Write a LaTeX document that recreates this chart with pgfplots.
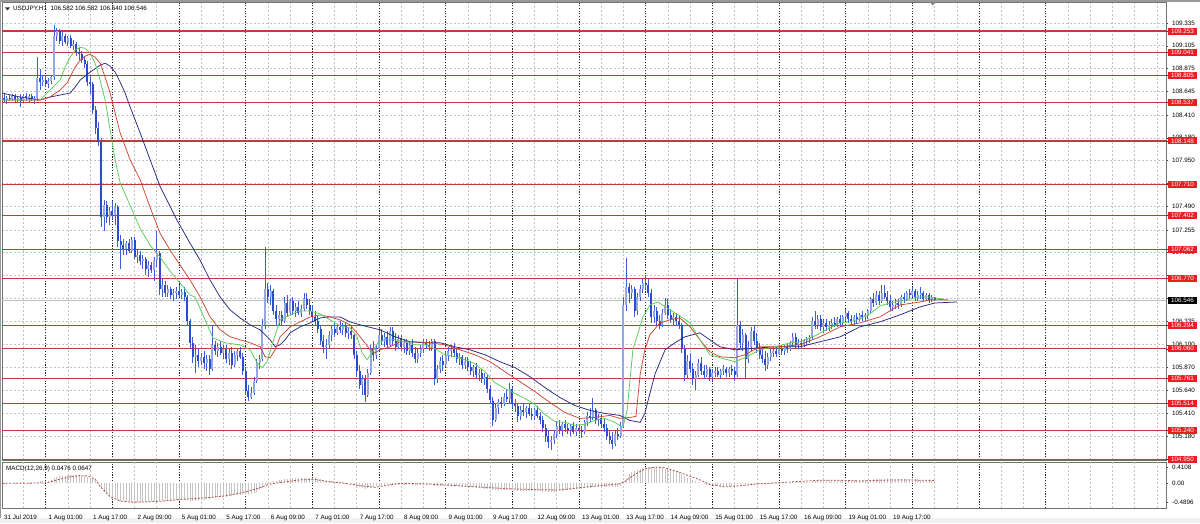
\documentclass[border=0pt]{standalone}
\usepackage{fontspec}
\setmainfont{Liberation Sans}
\usepackage{pgfplots}
\usepackage{pgfplotstable}
\pgfplotsset{compat=1.18}

\definecolor{gridgray}{RGB}{196,196,196}
\definecolor{lvl}{RGB}{196,58,58}
\definecolor{tagred}{RGB}{232,30,34}
\definecolor{bear}{RGB}{45,75,205}
\definecolor{bull}{RGB}{148,166,228}
\definecolor{wick}{RGB}{62,92,212}
\definecolor{lips}{RGB}{90,205,90}
\definecolor{teeth}{RGB}{205,70,50}
\definecolor{jaw}{RGB}{40,40,130}
\definecolor{histgray}{RGB}{196,196,196}
\definecolor{sigred}{RGB}{178,82,82}

% USDJPY H1 candles: bar index, open, high, low, close
\pgfplotstableread{
i o h l c
0 108.58 108.62 108.54 108.56
1 108.56 108.60 108.52 108.58
2 108.58 108.61 108.55 108.57
3 108.57 108.62 108.55 108.60
4 108.60 108.62 108.54 108.56
5 108.56 108.60 108.53 108.58
6 108.58 108.62 108.49 108.55
7 108.55 108.62 108.53 108.60
8 108.60 108.63 108.55 108.58
9 108.58 108.62 108.54 108.60
10 108.60 108.62 108.55 108.57
11 108.57 108.60 108.52 108.58
12 108.58 108.99 108.55 108.78
13 108.78 108.87 108.66 108.74
14 108.74 108.80 108.70 108.76
15 108.76 108.80 108.69 108.72
16 108.72 108.78 108.68 108.75
17 108.75 108.80 108.72 108.79
18 108.79 109.31 108.76 109.20
19 109.20 109.28 109.15 109.25
20 109.25 109.27 109.12 109.15
21 109.15 109.24 109.10 109.20
22 109.20 109.22 109.12 109.14
23 109.14 109.20 109.10 109.18
24 109.18 109.21 109.08 109.10
25 109.10 109.16 109.06 109.12
26 109.12 109.14 109.00 109.04
27 109.04 109.08 108.96 109.02
28 109.02 109.05 108.93 108.96
29 108.96 109.00 108.88 108.92
30 108.92 108.95 108.70 108.74
31 108.74 108.80 108.62 108.72
32 108.72 108.74 108.42 108.46
33 108.46 108.50 108.22 108.28
34 108.28 108.34 108.10 108.14
35 108.14 108.18 107.28 107.38
36 107.38 107.56 107.24 107.50
37 107.50 107.54 107.32 107.38
38 107.38 107.48 107.30 107.44
39 107.44 107.55 107.36 107.40
40 107.40 107.52 107.30 107.48
41 107.48 107.50 107.08 107.14
42 107.14 107.20 106.86 107.10
43 107.10 107.16 107.00 107.06
44 107.06 107.14 107.00 107.12
45 107.12 107.16 107.02 107.04
46 107.04 107.18 107.02 107.15
47 107.15 107.18 106.96 106.98
48 106.98 107.06 106.92 107.00
49 107.00 107.04 106.90 106.94
50 106.94 107.00 106.86 106.96
51 106.96 106.98 106.80 106.86
52 106.86 106.94 106.78 106.90
53 106.90 106.93 106.82 106.85
54 106.85 106.98 106.74 106.95
55 106.95 107.24 106.88 107.02
56 107.02 107.04 106.60 106.66
57 106.66 106.76 106.58 106.70
58 106.70 106.74 106.58 106.62
59 106.62 106.70 106.58 106.66
60 106.66 106.68 106.56 106.60
61 106.60 106.66 106.54 106.62
62 106.62 106.68 106.56 106.64
63 106.64 106.70 106.58 106.60
64 106.60 106.66 106.56 106.63
65 106.63 106.68 106.54 106.58
66 106.58 106.60 106.30 106.34
67 106.34 106.36 106.06 106.12
68 106.12 106.18 105.92 105.98
69 105.98 106.10 105.82 106.00
70 106.00 106.06 105.88 105.94
71 105.94 106.02 105.90 105.98
72 105.98 106.04 105.86 105.92
73 105.92 106.00 105.84 105.96
74 105.96 106.00 105.80 105.86
75 105.86 106.30 105.84 106.10
76 106.10 106.14 106.00 106.04
77 106.04 106.12 105.98 106.08
78 106.08 106.14 106.00 106.02
79 106.02 106.10 105.96 106.06
80 106.06 106.10 105.92 105.96
81 105.96 106.06 105.90 106.02
82 106.02 106.08 105.86 105.90
83 105.90 106.04 105.88 106.00
84 106.00 106.06 105.94 106.04
85 106.04 106.08 105.96 105.98
86 105.98 106.02 105.80 105.84
87 105.84 105.88 105.60 105.64
88 105.64 105.70 105.54 105.58
89 105.58 105.68 105.56 105.62
90 105.62 105.78 105.60 105.74
91 105.74 105.96 105.72 105.92
92 105.92 106.00 105.86 105.96
93 105.96 106.36 105.94 106.30
94 106.30 107.08 106.26 106.66
95 106.66 106.72 106.52 106.58
96 106.58 106.70 106.50 106.64
97 106.64 106.66 106.40 106.44
98 106.44 106.50 106.30 106.36
99 106.36 106.44 106.30 106.40
100 106.40 106.44 106.30 106.34
101 106.34 106.58 106.32 106.52
102 106.52 106.60 106.38 106.42
103 106.42 106.56 106.40 106.54
104 106.54 106.58 106.40 106.44
105 106.44 106.52 106.38 106.48
106 106.48 106.54 106.40 106.42
107 106.42 106.50 106.38 106.46
108 106.46 106.62 106.44 106.56
109 106.56 106.62 106.46 106.50
110 106.50 106.56 106.40 106.44
111 106.44 106.50 106.34 106.38
112 106.38 106.44 106.30 106.34
113 106.34 106.40 106.22 106.26
114 106.26 106.30 106.10 106.14
115 106.14 106.20 106.02 106.08
116 106.08 106.16 105.96 106.10
117 106.10 106.24 106.06 106.20
118 106.20 106.30 106.14 106.26
119 106.26 106.32 106.18 106.22
120 106.22 106.30 106.20 106.28
121 106.28 106.34 106.22 106.25
122 106.25 106.32 106.20 106.29
123 106.29 106.32 106.18 106.22
124 106.22 106.28 106.16 106.24
125 106.24 106.28 106.16 106.20
126 106.20 106.22 105.96 106.00
127 106.00 106.04 105.78 105.84
128 105.84 105.90 105.66 105.70
129 105.70 105.80 105.60 105.76
130 105.76 105.80 105.52 105.60
131 105.60 105.86 105.58 105.82
132 105.82 106.10 105.80 106.06
133 106.06 106.14 105.94 106.00
134 106.00 106.10 105.96 106.06
135 106.06 106.27 106.04 106.20
136 106.20 106.26 106.10 106.14
137 106.14 106.22 106.08 106.18
138 106.18 106.24 106.06 106.10
139 106.10 106.28 106.08 106.24
140 106.24 106.28 106.10 106.14
141 106.14 106.22 106.04 106.08
142 106.08 106.20 106.06 106.16
143 106.16 106.20 106.04 106.08
144 106.08 106.16 106.02 106.12
145 106.12 106.16 106.00 106.04
146 106.04 106.14 106.00 106.10
147 106.10 106.16 105.98 106.02
148 106.02 106.08 105.92 105.96
149 105.96 106.06 105.92 106.02
150 106.02 106.10 105.98 106.06
151 106.06 106.16 106.02 106.12
152 106.12 106.16 106.06 106.10
153 106.10 106.14 106.04 106.08
154 106.08 106.16 106.04 106.14
155 106.14 106.16 105.70 105.76
156 105.76 105.90 105.72 105.86
157 105.86 105.98 105.82 105.94
158 105.94 106.00 105.84 105.90
159 105.90 106.04 105.88 106.00
160 106.00 106.08 105.94 106.04
161 106.04 106.10 105.98 106.06
162 106.06 106.12 105.98 106.02
163 106.02 106.06 105.92 105.96
164 105.96 106.02 105.90 105.98
165 105.98 106.00 105.86 105.90
166 105.90 105.98 105.86 105.94
167 105.94 105.98 105.84 105.88
168 105.88 105.94 105.80 105.84
169 105.84 105.90 105.78 105.88
170 105.88 105.92 105.76 105.80
171 105.80 105.86 105.74 105.82
172 105.82 105.86 105.72 105.76
173 105.76 105.82 105.70 105.78
174 105.78 105.80 105.62 105.66
175 105.66 105.70 105.50 105.54
176 105.54 105.58 105.28 105.34
177 105.34 105.50 105.32 105.46
178 105.46 105.56 105.40 105.52
179 105.52 105.58 105.46 105.50
180 105.50 105.62 105.48 105.58
181 105.58 105.66 105.52 105.56
182 105.56 105.72 105.50 105.66
183 105.66 105.68 105.46 105.50
184 105.50 105.56 105.42 105.48
185 105.48 105.50 105.32 105.38
186 105.38 105.48 105.34 105.44
187 105.44 105.50 105.38 105.42
188 105.42 105.48 105.36 105.46
189 105.46 105.50 105.38 105.40
190 105.40 105.46 105.34 105.38
191 105.38 105.46 105.34 105.44
192 105.44 105.48 105.36 105.38
193 105.38 105.42 105.30 105.34
194 105.34 105.38 105.22 105.26
195 105.26 105.30 105.12 105.18
196 105.18 105.24 105.06 105.12
197 105.12 105.18 105.04 105.14
198 105.14 105.24 105.10 105.20
199 105.20 105.32 105.16 105.28
200 105.28 105.34 105.20 105.24
201 105.24 105.32 105.18 105.30
202 105.30 105.34 105.22 105.26
203 105.26 105.30 105.20 105.24
204 105.24 105.30 105.18 105.28
205 105.28 105.32 105.20 105.22
206 105.22 105.30 105.18 105.26
207 105.26 105.30 105.20 105.24
208 105.24 105.28 105.16 105.22
209 105.22 105.34 105.20 105.32
210 105.32 105.42 105.28 105.38
211 105.38 105.46 105.32 105.36
212 105.36 105.57 105.34 105.44
213 105.44 105.46 105.30 105.34
214 105.34 105.40 105.28 105.36
215 105.36 105.40 105.26 105.30
216 105.30 105.36 105.22 105.26
217 105.26 105.30 105.14 105.18
218 105.18 105.24 105.10 105.14
219 105.14 105.22 105.05 105.10
220 105.10 105.24 105.08 105.20
221 105.20 105.26 105.14 105.18
222 105.18 105.32 105.16 105.28
223 105.28 106.58 105.26 106.50
224 106.50 106.97 106.44 106.68
225 106.68 106.72 106.52 106.62
226 106.62 106.70 106.56 106.66
227 106.66 106.68 106.38 106.44
228 106.44 106.62 106.40 106.58
229 106.58 106.70 106.54 106.66
230 106.66 106.76 106.62 106.72
231 106.72 106.80 106.66 106.70
232 106.70 106.76 106.58 106.62
233 106.62 106.66 106.32 106.38
234 106.38 106.50 106.32 106.44
235 106.44 106.48 106.30 106.34
236 106.34 106.40 106.26 106.30
237 106.30 106.46 106.28 106.42
238 106.42 106.57 106.40 106.50
239 106.50 106.56 106.36 106.40
240 106.40 106.46 106.32 106.36
241 106.36 106.42 106.30 106.38
242 106.38 106.42 106.30 106.34
243 106.34 106.40 106.26 106.30
244 106.30 106.32 106.02 106.06
245 106.06 106.10 105.74 105.80
246 105.80 106.00 105.76 105.94
247 105.94 106.02 105.82 105.86
248 105.86 105.92 105.70 105.76
249 105.76 105.84 105.65 105.80
250 105.80 105.96 105.78 105.92
251 105.92 105.98 105.80 105.84
252 105.84 105.90 105.76 105.80
253 105.80 105.90 105.78 105.86
254 105.86 105.88 105.74 105.78
255 105.78 105.86 105.74 105.82
256 105.82 105.88 105.78 105.84
257 105.84 105.88 105.78 105.80
258 105.80 105.86 105.76 105.84
259 105.84 105.90 105.80 105.86
260 105.86 105.88 105.78 105.82
261 105.82 105.88 105.78 105.86
262 105.86 105.90 105.80 105.84
263 105.84 105.88 105.74 105.80
264 105.80 106.77 105.78 106.30
265 106.30 106.34 106.06 106.12
266 106.12 106.26 106.04 106.20
267 106.20 106.22 105.76 105.96
268 105.96 106.14 105.92 106.08
269 106.08 106.28 106.04 106.24
270 106.24 106.30 106.10 106.14
271 106.14 106.22 106.02 106.06
272 106.06 106.12 105.96 106.00
273 106.00 106.08 105.92 105.96
274 105.96 106.04 105.84 105.90
275 105.90 106.02 105.86 105.98
276 105.98 106.06 105.94 106.02
277 106.02 106.08 105.98 106.04
278 106.04 106.08 105.98 106.01
279 106.01 106.10 106.00 106.06
280 106.06 106.10 106.00 106.04
281 106.04 106.10 106.00 106.08
282 106.08 106.12 106.02 106.06
283 106.06 106.14 106.04 106.12
284 106.12 106.22 106.08 106.18
285 106.18 106.22 106.06 106.10
286 106.10 106.16 106.06 106.12
287 106.12 106.16 106.06 106.10
288 106.10 106.16 106.08 106.14
289 106.14 106.18 106.10 106.16
290 106.16 106.20 106.12 106.18
291 106.18 106.38 106.16 106.34
292 106.34 106.44 106.26 106.30
293 106.30 106.40 106.26 106.36
294 106.36 106.40 106.24 106.28
295 106.28 106.36 106.22 106.32
296 106.32 106.36 106.24 106.28
297 106.28 106.34 106.24 106.30
298 106.30 106.36 106.26 106.32
299 106.32 106.38 106.28 106.30
300 106.30 106.38 106.28 106.36
301 106.36 106.40 106.28 106.32
302 106.32 106.40 106.30 106.38
303 106.38 106.46 106.34 106.42
304 106.42 106.44 106.32 106.36
305 106.36 106.40 106.30 106.34
306 106.34 106.40 106.30 106.38
307 106.38 106.42 106.32 106.36
308 106.36 106.42 106.34 106.40
309 106.40 106.44 106.34 106.38
310 106.38 106.42 106.34 106.40
311 106.40 106.46 106.36 106.44
312 106.44 106.58 106.42 106.56
313 106.56 106.62 106.48 106.52
314 106.52 106.64 106.50 106.60
315 106.60 106.64 106.50 106.54
316 106.54 106.70 106.52 106.62
317 106.62 106.70 106.56 106.58
318 106.58 106.64 106.50 106.54
319 106.54 106.60 106.44 106.48
320 106.48 106.54 106.44 106.50
321 106.50 106.56 106.46 106.52
322 106.52 106.56 106.46 106.50
323 106.50 106.60 106.48 106.58
324 106.58 106.62 106.52 106.56
325 106.56 106.64 106.54 106.62
326 106.62 106.66 106.56 106.60
327 106.60 106.68 106.58 106.64
328 106.64 106.66 106.54 106.58
329 106.58 106.64 106.54 106.60
330 106.60 106.68 106.56 106.62
331 106.62 106.64 106.54 106.56
332 106.56 106.62 106.54 106.60
333 106.60 106.62 106.52 106.55
334 106.55 106.60 106.53 106.58
335 106.582 106.582 106.540 106.546
}\ohlc

% Alligator lines (bar index, price)
\pgfplotstableread{
i p
-0.7 108.63
5.8 108.59
13 108.56
16.6 108.59
20.2 108.61
23.8 108.63
25.6 108.69
27.4 108.76
31 108.84
34.6 108.91
36.4 108.93
38.2 108.90
40 108.84
41.8 108.74
43.6 108.63
45.4 108.49
49 108.23
52.6 107.96
56.2 107.69
62.3 107.35
67 107.12
70.6 106.95
74.2 106.75
77.8 106.58
81.4 106.45
85 106.37
88.6 106.30
92.2 106.25
95.8 106.15
97.6 106.08
99.4 106.10
101.2 106.15
103 106.22
106.6 106.28
110.2 106.32
113.8 106.37
117.4 106.38
121 106.38
124.6 106.33
128.2 106.30
135.4 106.25
140.8 106.18
146.2 106.13
151.6 106.12
157 106.12
162.3 106.08
167.7 106.05
173.1 106.00
178.5 105.93
184 105.87
189.3 105.78
194.7 105.67
200.1 105.57
205.5 105.49
211 105.44
216.3 105.41
221.7 105.39
225.3 105.34
229 105.32
230.7 105.41
232.5 105.61
234.4 105.81
238 106.05
241.5 106.12
245.1 106.18
250.5 106.22
254.1 106.15
257.7 106.08
263.1 106.05
272.1 106.07
279.3 106.08
286.5 106.08
293.7 106.13
301 106.18
308.1 106.28
315.3 106.33
322.5 106.40
329.7 106.48
335.1 106.52
343 106.53
}\jaw

\pgfplotstableread{
i p
-0.7 108.56
13 108.56
16.6 108.59
20.2 108.66
22.7 108.73
25.6 108.89
27.4 108.96
29.2 109.00
31 109.02
32.8 108.99
34.6 108.93
36.4 108.79
38.2 108.63
40 108.43
41.8 108.23
45.4 107.96
49 107.76
52.6 107.48
56.2 107.22
59.8 107.05
63.4 106.90
67 106.75
70.6 106.58
74.2 106.38
77.8 106.25
81.4 106.18
85 106.15
88.6 106.12
92.2 106.08
94 105.98
95.8 105.97
97.6 106.05
99.4 106.18
103 106.28
106.6 106.33
110.2 106.38
113.8 106.40
117.4 106.38
121 106.35
124.6 106.30
128.2 106.18
131.8 106.05
133.6 106.02
135.4 106.05
139 106.08
142.6 106.13
148 106.13
153.3 106.12
158.7 106.10
164.1 106.05
169.5 106.00
175 105.93
180.3 105.83
185.7 105.73
191.1 105.63
196.5 105.52
201.9 105.42
207.3 105.36
212.7 105.37
218.1 105.39
221.7 105.36
225.3 105.37
227.5 105.38
229 105.80
230.7 106.05
232.5 106.20
236.1 106.32
239.7 106.35
243.3 106.37
247 106.28
250.5 106.15
254.1 106.03
257.7 105.98
263.1 105.97
266.7 106.00
272.1 106.08
279.3 106.08
286.5 106.10
293.7 106.18
301 106.28
308.1 106.32
315.3 106.38
322.5 106.50
329.7 106.53
335.1 106.56
340 106.55
}\teeth

\pgfplotstableread{
i p
-0.7 108.56
13 108.56
14.8 108.61
16.6 108.66
18.4 108.71
20.2 108.76
22 108.89
23.8 108.99
25.6 109.06
27.4 109.09
29.2 109.08
31 109.03
32.8 108.93
34.6 108.76
36.4 108.56
38.2 108.26
40 107.96
41.8 107.73
45.4 107.50
49 107.27
52.6 107.10
56.2 106.98
59.8 106.84
63.4 106.72
67 106.60
68.8 106.58
71.6 106.40
75.2 106.17
79.6 106.12
85 106.10
88.6 106.05
91.1 105.92
92.9 105.87
94.7 105.93
96.5 106.10
99.4 106.35
103 106.40
106.6 106.44
110.2 106.44
113.8 106.41
117.4 106.35
121 106.29
124.6 106.27
127.1 106.18
128.9 106.02
130.7 105.95
132.5 106.02
134.6 106.12
137.1 106.15
140.8 106.15
144.3 106.13
148 106.10
151.6 106.10
155.9 106.05
158.7 106.00
162.3 105.98
166 105.95
169.5 105.91
173.1 105.83
176.7 105.72
180.3 105.66
184 105.61
187.5 105.56
191.1 105.50
194.7 105.40
198.3 105.33
201.9 105.32
205.5 105.29
209.1 105.30
212.7 105.34
216.3 105.36
219.9 105.32
222.8 105.27
224.3 105.44
226.4 106.05
230 106.38
232.5 106.50
235.4 106.53
239.7 106.45
243.3 106.39
247 106.32
250.5 106.15
254.1 106.00
257.7 105.97
263.1 105.93
266.7 105.97
272.1 106.05
277.5 106.08
283 106.12
286.5 106.13
292 106.19
297.3 106.27
301 106.32
304.5 106.33
308.1 106.36
311.7 106.41
315.3 106.49
318.9 106.52
322.5 106.54
326.1 106.56
329.7 106.58
333.3 106.58
338 106.56
}\lips

\pgfplotsset{
  mtpane/.style={
    scale only axis, width=1164pt,
    xmin=-0.72, xmax=418.3,
    clip mode=individual,
    axis line style={draw=black!55, line width=0.8pt},
    major grid style={draw=gridgray, line width=0.6pt, dash pattern=on 2pt off 2pt},
    minor grid style={draw=black!85, line width=0.7pt, dash pattern=on 1.2pt off 1.5pt},
    minor xtick={15,39,...,375}, xminorgrids=true,
    xtick style={draw=none}, minor tick length=0pt,
    tick align=outside, major tick length=2.5pt,
    ytick pos=right, yticklabel pos=right,
    ytick style={draw=black!75, line width=0.5pt},
    tick label style={font=\fontsize{6.3}{7.5}\selectfont, text=black},
    yticklabel style={anchor=west, inner sep=0pt, xshift=3.5pt},
  },
}
\tikzset{
  pricetag/.style={anchor=west, text=white, minimum width=29pt, minimum height=7pt,
    inner sep=0pt, font=\fontsize{6.3}{7.5}\selectfont},
}

\begin{document}
\begin{tikzpicture}[font=\fontsize{6.3}{7.5}\selectfont]
\useasboundingbox (0,0) rectangle (1200pt,523pt);
\fill[white] (0,0) rectangle (1200pt,523pt);
\fill[black!6] (0,0) rectangle (1200pt,5pt);

% price pane
\begin{axis}[mtpane,
  at={(2pt,63pt)}, anchor=south west, height=458pt,
  ymin=104.942, ymax=109.545,
  xtick={7,23,31,47,55,71,79,95,103,119,127,143,151,167,175,191,199,215,223,239,247,263,271,287,295,311,319,335,343,359,367,383,391,399,407,415},
  xticklabels={}, xmajorgrids=true,
  ytick={109.335,109.105,108.875,108.645,108.410,108.180,107.950,107.720,107.490,107.255,107.025,106.795,106.565,106.335,106.100,105.870,105.640,105.410,105.180},
  yticklabels={109.335,109.105,108.875,108.645,108.410,108.180,107.950,,107.490,107.255,107.025,,,106.335,106.100,105.870,105.640,105.410,105.180},
  ymajorgrids=true,
  extra y ticks={109.253,109.041,108.805,108.537,108.148,107.710,107.402,107.062,106.770,106.294,106.060,105.761,105.514,105.240,104.950},
  extra y tick labels={},
  extra y tick style={grid=major,
    major grid style={draw=lvl, line width=1.1pt, solid}},
]
\addplot[draw=black!25, line width=0.6pt] coordinates {(-0.72,106.546) (418.3,106.546)};
\addplot[draw=wick, line width=0.9pt, mark=none, quiver={u=0, v=\thisrow{h}-\thisrow{l}}]
  table[x=i, y=l] {\ohlc};
\addplot[draw=bull, line width=2pt, mark=none, quiver={u=0, v=\thisrow{c}-\thisrow{o}},
  restrict expr to domain={\thisrow{c}-\thisrow{o}}{0:10}]
  table[x=i, y=o] {\ohlc};
\addplot[draw=bear, line width=2pt, mark=none, quiver={u=0, v=\thisrow{c}-\thisrow{o}},
  restrict expr to domain={\thisrow{o}-\thisrow{c}}{0.0001:10}]
  table[x=i, y=o] {\ohlc};
\addplot[draw=jaw, line width=0.75pt, mark=none] table[x=i, y=p] {\jaw};
\addplot[draw=teeth, line width=0.75pt, mark=none] table[x=i, y=p] {\teeth};
\addplot[draw=lips, line width=0.75pt, mark=none] table[x=i, y=p] {\lips};
% anchors for the price tags on the right scale
\coordinate (L1) at (axis cs:418.3,109.253);
\coordinate (L2) at (axis cs:418.3,109.041);
\coordinate (L3) at (axis cs:418.3,108.805);
\coordinate (L4) at (axis cs:418.3,108.537);
\coordinate (L5) at (axis cs:418.3,108.148);
\coordinate (L6) at (axis cs:418.3,107.710);
\coordinate (L7) at (axis cs:418.3,107.402);
\coordinate (L8) at (axis cs:418.3,107.062);
\coordinate (L9) at (axis cs:418.3,106.770);
\coordinate (L10) at (axis cs:418.3,106.294);
\coordinate (L11) at (axis cs:418.3,106.060);
\coordinate (L12) at (axis cs:418.3,105.761);
\coordinate (L13) at (axis cs:418.3,105.514);
\coordinate (L14) at (axis cs:418.3,105.240);
\coordinate (L15) at (axis cs:418.3,104.950);
\coordinate (Bid) at (axis cs:418.3,106.546);
\end{axis}

% MACD pane
\begin{axis}[mtpane,
  at={(2pt,15pt)}, anchor=south west, height=46pt,
  ymin=-0.641, ymax=0.538,
  xtick={0,16,...,320},
  xticklabels={31 Jul 2019,1 Aug 01:00,1 Aug 17:00,2 Aug 09:00,5 Aug 01:00,5 Aug 17:00,6 Aug 09:00,7 Aug 01:00,7 Aug 17:00,8 Aug 09:00,9 Aug 01:00,9 Aug 17:00,12 Aug 09:00,13 Aug 01:00,13 Aug 17:00,14 Aug 09:00,15 Aug 01:00,15 Aug 17:00,16 Aug 09:00,19 Aug 01:00,19 Aug 17:00},
  xmajorgrids=false,
  xticklabel style={anchor=base west, inner sep=0pt, yshift=-9.3pt},
  extra x ticks={7,23,31,47,55,71,79,95,103,119,127,143,151,167,175,191,199,215,223,239,247,263,271,287,295,311,319,335,343,359,367,383,391,399,407,415},
  extra x tick labels={}, extra x tick style={grid=major},
  ytick={-0.4896,0,0.4108}, yticklabels={-0.4896,0.00,0.4108},
  ymajorgrids=false,
]
\addplot[ycomb, draw=histgray, line width=0.9pt, mark=none] coordinates {
(0,0.01)(1,0.01)(2,0.00)(3,0.00)(4,0.01)(5,0.00)(6,-0.01)(7,0.00)(8,0.00)(9,0.01)(10,0.00)(11,0.00)(12,0.03)(13,0.04)(14,0.05)
(15,0.06)(16,0.06)(17,0.07)(18,0.12)(19,0.15)(20,0.17)(21,0.18)(22,0.19)(23,0.20)(24,0.20)(25,0.20)(26,0.20)(27,0.19)(28,0.19)(29,0.18)(30,0.16)
(31,0.14)(32,0.10)(33,0.05)(34,-0.01)(35,-0.12)(36,-0.20)(37,-0.26)(38,-0.31)(39,-0.35)(40,-0.39)(41,-0.43)
(42,-0.46)(43,-0.47)(44,-0.48)(45,-0.49)(46,-0.49)(47,-0.49)(48,-0.49)(49,-0.49)(50,-0.48)(51,-0.48)(52,-0.48)(53,-0.47)(54,-0.47)(55,-0.46)
(56,-0.47)(57,-0.47)(58,-0.46)(59,-0.46)(60,-0.45)(61,-0.45)(62,-0.44)(63,-0.44)(64,-0.43)(65,-0.43)(66,-0.44)(67,-0.45)(68,-0.46)(69,-0.46)(70,-0.45)
(71,-0.44)(72,-0.43)(73,-0.42)(74,-0.41)(75,-0.39)(76,-0.38)(77,-0.37)(78,-0.36)(79,-0.36)(80,-0.35)
(81,-0.34)(82,-0.33)(83,-0.32)(84,-0.31)(85,-0.30)(86,-0.30)(87,-0.31)(88,-0.31)(89,-0.29)(90,-0.26)(91,-0.22)(92,-0.18)(93,-0.12)(94,-0.05)(95,-0.01)(96,0.02)
(97,0.04)(98,0.06)(99,0.07)(100,0.08)(101,0.10)(102,0.11)(103,0.12)(104,0.12)(105,0.13)(106,0.13)(107,0.13)(108,0.14)(109,0.14)(110,0.13)(111,0.13)
(112,0.12)(113,0.11)(114,0.09)(115,0.07)(116,0.05)(117,0.05)
(118,0.05)(119,0.04)(120,0.04)(121,0.03)(122,0.02)(123,0.01)(124,0.00)(125,-0.02)(126,-0.05)(127,-0.08)(128,-0.11)(129,-0.13)(130,-0.15)
(131,-0.14)(132,-0.12)(133,-0.10)(134,-0.08)(135,-0.07)(136,-0.06)(137,-0.06)(138,-0.05)(139,-0.05)(140,-0.05)(141,-0.04)(142,-0.04)
(143,-0.04)(144,-0.04)(145,-0.04)(146,-0.03)(147,-0.04)(148,-0.05)(149,-0.05)(150,-0.04)(151,-0.04)(152,-0.03)(153,-0.03)(154,-0.03)(155,-0.07)
(156,-0.08)(157,-0.08)(158,-0.07)(159,-0.07)(160,-0.07)(161,-0.07)(162,-0.08)(163,-0.08)(164,-0.09)(165,-0.09)(166,-0.10)(167,-0.10)(168,-0.11)
(169,-0.11)(170,-0.12)(171,-0.13)(172,-0.14)(173,-0.15)(174,-0.15)(175,-0.16)(176,-0.19)(177,-0.19)(178,-0.19)(179,-0.19)(180,-0.18)(181,-0.18)
(182,-0.18)(183,-0.19)(184,-0.19)(185,-0.20)(186,-0.20)(187,-0.20)(188,-0.20)(189,-0.20)(190,-0.20)(191,-0.20)(192,-0.20)(193,-0.21)(194,-0.22)(195,-0.23)
(196,-0.24)(197,-0.24)(198,-0.23)(199,-0.22)(200,-0.21)(201,-0.20)(202,-0.19)(203,-0.18)(204,-0.17)(205,-0.16)(206,-0.16)(207,-0.15)(208,-0.15)
(209,-0.14)(210,-0.13)(211,-0.12)(212,-0.10)(213,-0.10)(214,-0.10)(215,-0.10)(216,-0.10)(217,-0.11)(218,-0.11)(219,-0.11)(220,-0.10)(221,-0.09)(222,-0.08)
(223,0.04)(224,0.14)(225,0.22)(226,0.27)(227,0.30)(228,0.34)(229,0.37)(230,0.39)(231,0.41)(232,0.41)(233,0.40)(234,0.40)(235,0.39)(236,0.38)
(237,0.38)(238,0.37)(239,0.36)(240,0.34)
(241,0.32)(242,0.30)(243,0.27)(244,0.23)(245,0.18)(246,0.14)(247,0.11)(248,0.07)(249,0.04)(250,0.02)(251,0.00)(252,-0.02)(253,-0.04)(254,-0.05)
(255,-0.06)(256,-0.07)(257,-0.07)(258,-0.07)(259,-0.07)(260,-0.07)(261,-0.07)(262,-0.07)(263,-0.08)(264,-0.02)(265,-0.03)(266,-0.02)(267,-0.04)
(268,-0.03)(269,-0.02)(270,-0.02)(271,-0.02)(272,-0.02)
(273,-0.03)(274,-0.03)(275,-0.03)(276,-0.02)(277,-0.02)(278,-0.01)(279,-0.01)(280,0.00)(281,0.00)(282,0.00)(283,0.01)(284,0.02)(285,0.02)
(286,0.02)(287,0.02)(288,0.02)(289,0.02)(290,0.03)
(291,0.05)(292,0.06)(293,0.07)(294,0.07)(295,0.07)(296,0.07)(297,0.07)(298,0.07)(299,0.07)(300,0.07)(301,0.07)(302,0.07)(303,0.08)(304,0.07)
(305,0.07)(306,0.07)(307,0.07)(308,0.07)(309,0.07)(310,0.07)(311,0.07)(312,0.08)(313,0.10)(314,0.10)(315,0.11)(316,0.10)(317,0.11)(318,0.11)
(319,0.10)(320,0.09)(321,0.09)(322,0.09)(323,0.09)(324,0.09)(325,0.09)(326,0.10)(327,0.09)(328,0.09)(329,0.09)(330,0.08)(331,0.08)(332,0.07)
(333,0.06)(334,0.06)(335,0.0476)
};
\addplot[draw=sigred, line width=0.8pt, dash pattern=on 2pt off 1.5pt, mark=none] coordinates {
(-0.7,-0.01)(14.8,0.0)(16.6,0.03)(20.2,0.10)(23.8,0.16)(27.4,0.19)(30.2,0.18)(32.8,0.10)(34.6,-0.09)(38.2,-0.35)(41.8,-0.46)
(45.4,-0.49)(49,-0.49)(52.6,-0.48)(58,-0.46)(63.4,-0.42)(68.8,-0.40)(74.2,-0.37)(79.6,-0.33)(85,-0.26)(90.4,-0.16)(95.8,-0.03)
(101.2,0.03)(106.6,0.08)(112,0.09)(117.4,0.03)(122.8,-0.01)(128.2,-0.07)(133.6,-0.11)(139,-0.05)(142.6,-0.01)(149.8,-0.02)
(158.7,-0.05)(167.8,-0.09)(175,-0.12)(182.1,-0.15)(191.1,-0.17)(200.1,-0.18)(207.3,-0.12)(214.5,-0.07)(221.7,-0.02)(223.5,0.04)
(227.1,0.22)(230.7,0.36)(234.4,0.41)(238,0.39)(243.3,0.27)(250.5,0.08)(254.1,-0.04)(259.6,-0.10)(264.9,-0.07)(272.1,-0.02)
(279.3,0.01)(286.5,0.04)(293.7,0.07)(301,0.07)(308.1,0.05)(315.3,0.07)(322.5,0.08)(335,0.065)
};
\end{axis}

% price tags drawn over the right scale
\foreach \k/\t in {1/109.253,2/109.041,3/108.805,4/108.537,5/108.148,6/107.710,7/107.402,8/107.062,
  9/106.770,10/106.294,11/106.060,12/105.761,13/105.514,14/105.240,15/104.950}
  \node[pricetag, fill=tagred] at ([xshift=1.7pt]L\k) {\t};
\node[pricetag, fill=black] at ([xshift=1.7pt]Bid) {106.546};

% window decorations and captions
\fill[black!40] (0,521pt) rectangle (1200pt,523pt);
\fill[black!40] (0,5pt) rectangle (1.2pt,523pt);
\fill[black!45] (930pt,520.5pt) -- (935.5pt,520.5pt) -- (932.7pt,517.5pt) -- cycle;
\fill[black!80] (5pt,515.5pt) -- (10pt,515.5pt) -- (7.5pt,512.5pt) -- cycle;
\node[anchor=base west, inner sep=0pt] at (13pt,512.3pt) {USDJPY,H1\ \ 106.582 106.582 106.540 106.546};
\node[anchor=base west, inner sep=0pt] at (6pt,52.5pt) {MACD(12,26,9) 0.0476 0.0647};
\end{tikzpicture}
\end{document}
